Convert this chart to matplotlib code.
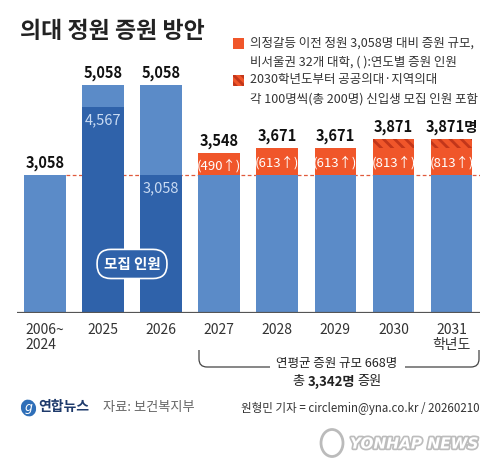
import matplotlib
matplotlib.use("Agg")
import matplotlib.pyplot as plt
from matplotlib.patches import Rectangle, Ellipse
from matplotlib.path import Path
from matplotlib.patches import PathPatch
import matplotlib.patheffects as pe

plt.rcParams['font.family'] = ['Noto Sans CJK KR', 'DejaVu Sans']
plt.rcParams['hatch.linewidth'] = 2.0

# ---- data ----
years = ['2006~\n2024', '2025', '2026', '2027', '2028', '2029', '2030', '2031\n학년도']
totals = [3058, 5058, 5058, 3548, 3671, 3671, 3871, 3871]
recruit = [0, 4567, 3058, 0, 0, 0, 0, 0]          # 모집 인원 (dark part)
base = 3058
increase = [0, 0, 0, 490, 613, 613, 813, 813]
public_med = [0, 0, 0, 0, 0, 0, 200, 200]           # 공공의대·지역의대
total_labels = ['3,058', '5,058', '5,058', '3,548', '3,671', '3,671', '3,871', '3,871명']

LIGHT = '#5b8bc8'
DARK = '#2f62aa'
ORANGE = '#f0562a'
HATCH = '#c2361a'

fig = plt.figure(figsize=(5, 4.75), dpi=100)
fig.patch.set_facecolor('white')

W, H = 500, 475
ax = fig.add_axes([17 / W, 1 - 313 / H, (480 - 17) / W, (313 - 60) / H])
ax.set_xlim(-0.48, 7.49)
ax.set_ylim(0, 253 / 0.045)
for s in ax.spines.values():
    s.set_visible(False)
ax.set_yticks([])

x = list(range(len(years)))
bw = 0.715

# dashed reference line at 3,058
ax.plot([0 + bw / 2, 7.49], [base, base], ls=(0, (3, 2)), color='#e05a3c', lw=0.9, zorder=1)

for i in x:
    if recruit[i]:
        ax.bar(i, totals[i], bw, color=LIGHT, zorder=2)
        ax.bar(i, recruit[i], bw, color=DARK, zorder=3)
        ax.annotate(f'{recruit[i]:,}', (i, recruit[i]), xytext=(0, -4), textcoords='offset points',
                    ha='center', va='top', fontsize=10.5, color='#c9dbf3', fontweight='light', zorder=5)
    else:
        ax.bar(i, base, bw, color=LIGHT, zorder=2)
        if increase[i]:
            solid = increase[i] - public_med[i]
            ax.bar(i, solid, bw, bottom=base, color=ORANGE, zorder=3)
            if public_med[i]:
                ax.bar(i, public_med[i], bw, bottom=base + solid, color=ORANGE,
                       hatch='\\\\\\', edgecolor=HATCH, linewidth=0, zorder=3)
            ax.text(i, base + solid / 2 - 30, f'({increase[i]}↑)', ha='center', va='center',
                    fontsize=9.5, color='white', zorder=5)
    ax.annotate(total_labels[i], (i, totals[i]), xytext=(0, 3), textcoords='offset points',
                ha='center', va='bottom', fontsize=10.5, fontweight='bold', color='#111', zorder=5)

ax.axhline(0, color='#555555', lw=1.6, zorder=4)

ax.set_xticks(x)
ax.set_xticklabels(years, fontsize=10, color='#333', linespacing=1.1)
ax.tick_params(axis='x', length=0, pad=7)
for lab in ax.get_xticklabels():
    lab.set_multialignment('left' if lab.get_text().startswith('2006') else 'center')

# 모집 인원 pill
ax.text(1.5, 1090, '모집 인원', ha='center', va='center', fontsize=10.5, fontweight='bold',
        color='white', zorder=6,
        bbox=dict(boxstyle='round,pad=0.45,rounding_size=0.95', fc=DARK, ec='white', lw=1.2))

# ---- overlay in pixel coordinates ----
ov = fig.add_axes([0, 0, 1, 1], facecolor='none')
ov.set_xlim(0, W)
ov.set_ylim(H, 0)
ov.axis('off')

ov.text(20, 31, '의대 정원 증원 방안', fontsize=16.5, fontweight='bold', color='#222',
        ha='left', va='center')

# legend
ov.add_patch(Rectangle((233, 38), 11, 11, fc=ORANGE, ec='none'))
ov.add_patch(Rectangle((233, 75), 11, 11, fc=ORANGE, ec=HATCH, lw=0, hatch='\\\\\\\\'))
leg_kw = dict(fontsize=9, color='#333', ha='left', va='center')
ov.text(250, 43, '의정갈등 이전 정원 3,058명 대비 증원 규모,', **leg_kw)
ov.text(250, 62, '비서울권 32개 대학, ( ):연도별 증원 인원', **leg_kw)
ov.text(250, 80, '2030학년도부터 공공의대·지역의대', **leg_kw)
ov.text(250, 99, '각 100명씩(총 200명) 신입생 모집 인원 포함', **leg_kw)

# brace
r = 8
verts = [(199, 350), (199, 367 - r), (199, 367), (199 + r, 367), (270, 367)]
codes = [Path.MOVETO, Path.LINETO, Path.CURVE3, Path.CURVE3, Path.LINETO]
ov.add_patch(PathPatch(Path(verts, codes), fc='none', ec='#444', lw=0.9))
verts = [(405, 367), (479 - r, 367), (479, 367), (479, 367 - r), (479, 350)]
codes = [Path.MOVETO, Path.LINETO, Path.CURVE3, Path.CURVE3, Path.LINETO]
ov.add_patch(PathPatch(Path(verts, codes), fc='none', ec='#444', lw=0.9))
ov.text(337, 363, '연평균 증원 규모 668명', fontsize=9, color='#222', ha='center', va='center')

# "총 3,342명 증원" with bold middle part
parts = [('총', 'normal'), ('3,342명', 'bold'), ('증원', 'normal')]
gap = 3
fig.canvas.draw()
renderer = fig.canvas.get_renderer()
widths = []
for s, w in parts:
    t = ov.text(0, 0, s, fontsize=9.5, fontweight=w)
    widths.append(t.get_window_extent(renderer).width)
    t.remove()
xs = 337 - (sum(widths) + gap * (len(parts) - 1)) / 2
for (s, w), wd in zip(parts, widths):
    ov.text(xs, 382, s, fontsize=9.5, fontweight=w, color='#222', ha='left', va='center')
    xs += wd + gap

# footer
ov.add_patch(Ellipse((28.5, 408), 15, 17, angle=-20, fc='#2f6fb8', ec='none'))
ov.text(28.5, 408, 'g', fontsize=9, color='white', style='italic', ha='center', va='center',
        family='DejaVu Sans')
ov.text(38, 407, '연합뉴스', fontsize=10, fontweight='bold', color='#1e3a6b', ha='left', va='center')
ov.text(103, 408, '자료: 보건복지부', fontsize=9.5, color='#666', ha='left', va='center')
ov.text(480, 408, '원형민 기자 = circlemin@yna.co.kr / 20260210', fontsize=8.3, color='#333',
        ha='right', va='center')

# watermark
ov.add_patch(Ellipse((332, 443), 22, 27, fc='white', ec='#bbbbbb', lw=2))
wm = ov.text(350, 444, 'YONHAP NEWS', fontsize=11, fontweight='bold', style='italic', color='white',
             ha='left', va='center', family='DejaVu Sans')
wm.set_path_effects([pe.withStroke(linewidth=2.5, foreground='#bdbdbd')])

fig.savefig('out.png', dpi=100, facecolor='white')
